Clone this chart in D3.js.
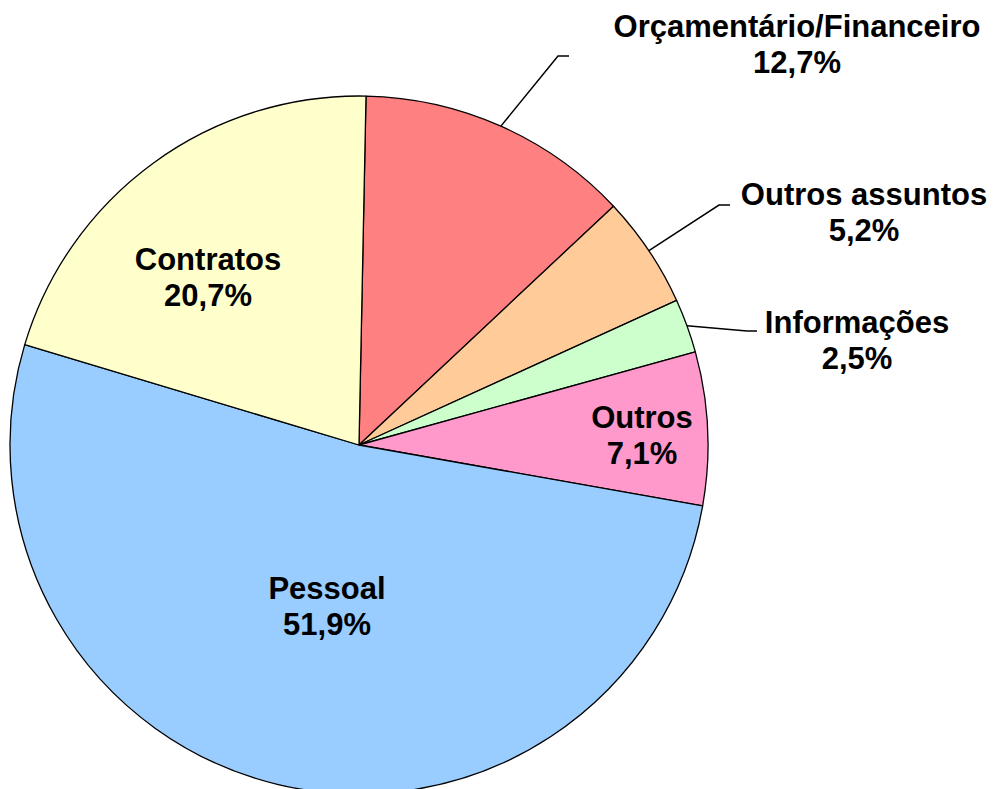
<!DOCTYPE html>
<html>
<head>
<meta charset="utf-8">
<script src="https://cdn.jsdelivr.net/npm/d3@7"></script>
<style>
  html, body { margin: 0; padding: 0; background: #fff; }
  svg { display: block; }
  text { font-family: "Liberation Sans", Arial, sans-serif; font-weight: bold; fill: #000; }
</style>
</head>
<body>
<svg width="997" height="789"></svg>
<script>
// data, clockwise from the top
var categories = ['Orçamentário/Financeiro', 'Outros assuntos', 'Informações', 'Outros', 'Pessoal', 'Contratos'];
var values = [12.7, 5.2, 2.5, 7.1, 51.9, 20.7];
var valueLabels = ['12,7%', '5,2%', '2,5%', '7,1%', '51,9%', '20,7%'];
var colors = ['#FF8080', '#FFCC99', '#CCFFCC', '#FF99CC', '#99CCFF', '#FFFFCC'];

// layout (label anchors and leader elbows)
var labelPos = [[797, 37], [864, 205], [857, 333], [642, 428], [327, 599], [208, 270]];
var leaders = [[[558, 56], [569, 56]], [[719, 205], [730, 205]], [[747, 331], [757, 331]], null, null, null];

var cx = 359, cy = 445, radius = 349;
var startAng = 1.15 * Math.PI / 180;

var svg = d3.select('svg');
var g = svg.append('g').attr('transform', `translate(${cx},${cy})`);

var data = categories.map((c, i) => ({name: c, value: values[i], label: valueLabels[i], color: colors[i], idx: i}));

var pie = d3.pie().value(d => d.value).sort(null)
  .startAngle(startAng).endAngle(startAng + 2 * Math.PI);
var arc = d3.arc().innerRadius(0).outerRadius(radius);
var arcs = pie(data);

g.selectAll('path.slice').data(arcs).enter()
  .append('path')
  .attr('class', 'slice')
  .attr('d', arc)
  .attr('fill', d => d.data.color)
  .attr('stroke', '#000')
  .attr('stroke-width', 1.3)
  .attr('stroke-linejoin', 'round');

// leader lines
arcs.forEach(function(a, i){
  if (!leaders[i]) return;
  var mid = (a.startAngle + a.endAngle) / 2;
  var p0 = [cx + radius * Math.sin(mid), cy - radius * Math.cos(mid)];
  var pts = [p0].concat(leaders[i]);
  svg.append('path')
    .attr('d', d3.line()(pts))
    .attr('fill', 'none')
    .attr('stroke', '#000')
    .attr('stroke-width', 1.5);
});

// labels
var lbl = svg.selectAll('text.lbl').data(data).enter()
  .append('text')
  .attr('class', 'lbl')
  .attr('text-anchor', 'middle')
  .attr('font-size', 31)
  .attr('x', d => labelPos[d.idx][0])
  .attr('y', d => labelPos[d.idx][1]);
lbl.append('tspan').attr('x', d => labelPos[d.idx][0]).text(d => d.name);
lbl.append('tspan').attr('x', d => labelPos[d.idx][0]).attr('dy', 36).text(d => d.label);
</script>
</body>
</html>
